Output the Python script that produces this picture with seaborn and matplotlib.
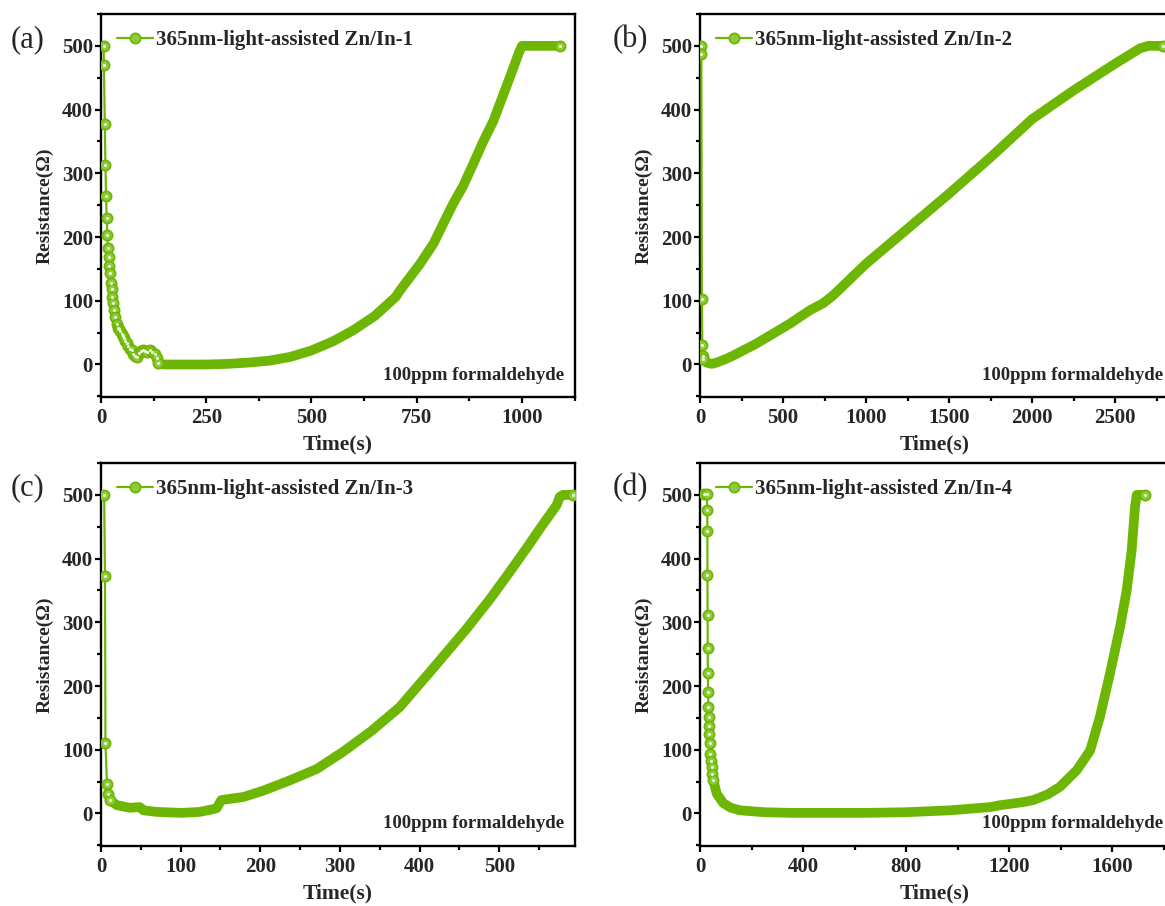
import matplotlib
matplotlib.use("Agg")
import matplotlib.pyplot as plt
import pandas as pd
import seaborn as sns
from matplotlib.ticker import MultipleLocator

# ---------------- data ----------------
legend_labels = ["365nm-light-assisted Zn/In-1", "365nm-light-assisted Zn/In-2",
                 "365nm-light-assisted Zn/In-3", "365nm-light-assisted Zn/In-4"]
panel_tags = ["(a)", "(b)", "(c)", "(d)"]
gas_note = "100ppm formaldehyde"
x_label = "Time(s)"
y_label = "Resistance(Ω)"

# (a) Zn/In-1
a_drop_t = [6, 7, 9, 10.5, 12, 13.5, 15, 16.5, 18, 19.5, 21, 23, 25, 27, 29, 31, 34, 37,
            40, 43, 46, 49, 52, 55, 58, 61, 65, 69, 73, 77, 81, 85, 90, 95, 100, 105,
            110, 116, 122, 128, 132, 135]
a_drop_r = [500, 470, 378, 313, 265, 230, 203, 183, 168, 155, 143, 128, 118, 106, 96, 86,
            75, 64, 58, 55, 52, 48, 45, 41, 37, 33, 29, 25, 22, 17, 13, 12, 18, 21, 22, 21,
            20, 22, 20, 17, 10, 2]
a_band_t = [135, 150, 175, 200, 250, 300, 350, 400, 450, 500, 550, 600, 650, 700, 710,
            758, 790, 813, 837, 861, 885, 908, 932, 948, 972, 992, 1000, 1050, 1090]
a_band_r = [2, 0, 0, 0, 0, 1, 3, 6, 12, 22, 36, 54, 76, 106, 116, 158, 190, 221, 253,
            281, 316, 350, 382, 410, 452, 488, 500, 500, 500]

# (b) Zn/In-2
b_drop_t = [5, 8, 11, 14, 17, 20]
b_drop_r = [500, 487, 103, 30, 14, 8]
b_band_t = [20, 40, 70, 100, 150, 200, 341, 541, 661, 741, 800, 900, 1000, 1250, 1500,
            1750, 2000, 2250, 2500, 2600, 2650, 2700, 2790]
b_band_r = [8, 3, 1, 3, 8, 14, 33, 64, 85, 96, 108, 133, 158, 213, 268, 325, 385, 430,
            472, 488, 496, 500, 500]

# (c) Zn/In-3
c_drop_t = [4, 5, 5.6, 7.5, 9, 11]
c_drop_r = [500, 372, 110, 47, 30, 21]
c_band_t = [11, 20, 36, 49, 53, 70, 101, 124, 145, 151, 162, 179, 204, 237, 271, 304,
            340, 375, 417, 459, 488, 509, 534, 551, 572, 576, 580, 592]
c_band_r = [21, 13, 9, 10, 5, 2.5, 1, 2.5, 8, 21, 23, 26, 36, 52, 70, 97, 130, 167, 228,
            290, 336, 372, 416, 447, 484, 497, 500, 500]

# (d) Zn/In-4
d_drop_t = [14, 26, 28, 28.5, 29, 29.5, 30, 30.5, 31.5, 32.5, 33.5, 34.5, 36, 37.5, 40,
            42, 45, 48, 52]
d_drop_r = [501, 501, 477, 444, 375, 312, 260, 221, 191, 167, 151, 138, 125, 110, 94,
            83, 73, 62, 52]
d_band_t = [52, 65, 91, 120, 155, 250, 350, 500, 650, 800, 971, 1126, 1165, 1256, 1294,
            1350, 1398, 1463, 1515, 1553, 1592, 1631, 1657, 1676, 1689, 1696, 1728]
d_band_r = [52, 31, 16, 9, 5, 2, 1, 1, 1, 2, 5, 10, 13, 18, 21, 30, 42, 68, 99, 152, 220,
            293, 351, 413, 481, 500, 500]

x_limits = [(0, 1126), (0, 2825), (0, 595), (0, 1821)]
x_major = [250, 500, 100, 400]
y_limits = (-51, 550)

# ---------------- style ----------------
sns.set_style("ticks")
plt.rcParams["font.family"] = ["Liberation Serif", "DejaVu Serif"]
plt.rcParams["font.weight"] = "bold"
plt.rcParams["axes.labelweight"] = "bold"

LINE = "#6DB704"
FACE = "#8FCB3C"

W, H = 1165, 906
fig = plt.figure(figsize=(W / 100, H / 100), dpi=100)

boxes = [(101, 14, 474, 383), (700, 14, 469, 383), (101, 463, 474, 383), (700, 463, 469, 383)]
tag_pos = [(28, 40), (630, 40), (28, 488), (630, 488)]
series = [(a_drop_t, a_drop_r, a_band_t, a_band_r),
          (b_drop_t, b_drop_r, b_band_t, b_band_r),
          (c_drop_t, c_drop_r, c_band_t, c_band_r),
          (d_drop_t, d_drop_r, d_band_t, d_band_r)]

for i in range(4):
    l, t, w, h = boxes[i]
    ax = fig.add_axes([l / W, 1 - (t + h) / H, w / W, h / H])
    dt, dr, bt, br = series[i]
    band = pd.DataFrame({"t": bt, "r": br})
    drop = pd.DataFrame({"t": dt, "r": dr})

    sns.lineplot(data=band, x="t", y="r", ax=ax, color=LINE, linewidth=7.0,
                 estimator=None, sort=False, solid_capstyle="round",
                 solid_joinstyle="round", zorder=2)
    sns.lineplot(data=drop, x="t", y="r", ax=ax, color=LINE, linewidth=1.6,
                 estimator=None, sort=False, marker="o", markersize=7.3,
                 markerfacecolor=FACE, markeredgecolor=LINE, markeredgewidth=1.3,
                 label=legend_labels[i], zorder=3)
    sns.scatterplot(data=drop, x="t", y="r", ax=ax, color="#EEF8DD", s=5,
                    linewidth=0, zorder=4, legend=False)
    sns.lineplot(data=band.iloc[[-1]], x="t", y="r", ax=ax, color=LINE, linewidth=0,
                 marker="o", markersize=7.3, markerfacecolor=FACE,
                 markeredgecolor=LINE, markeredgewidth=1.3, zorder=3, legend=False)
    sns.scatterplot(data=band.iloc[[-1]], x="t", y="r", ax=ax, color="#EEF8DD", s=5,
                    linewidth=0, zorder=4, legend=False)

    ax.set_xlim(*x_limits[i])
    ax.set_ylim(*y_limits)
    ax.xaxis.set_major_locator(MultipleLocator(x_major[i]))
    ax.xaxis.set_minor_locator(MultipleLocator(x_major[i] / 2))
    ax.yaxis.set_major_locator(MultipleLocator(100))
    ax.yaxis.set_minor_locator(MultipleLocator(50))
    ax.tick_params(axis="both", which="major", direction="out", length=4.2, width=1.6,
                   labelsize=15, color="black")
    ax.tick_params(axis="both", which="minor", direction="out", length=2.6, width=1.6,
                   color="black")
    ax.tick_params(axis="x", pad=3.5)
    ax.tick_params(axis="y", pad=1.5)
    for sp in ax.spines.values():
        sp.set_visible(True)
        sp.set_linewidth(1.7)
        sp.set_color("black")

    ax.set_xlabel(x_label, fontsize=15.5, labelpad=5)
    ax.set_ylabel(y_label, fontsize=14, labelpad=6)

    ax.legend(loc="center left", bbox_to_anchor=(16 / w, 1 - 26 / h), frameon=False,
              borderpad=0, borderaxespad=0, handlelength=1.75, handletextpad=0.1,
              prop={"size": 15, "weight": "bold"})

    ax.text(1 - 11 / w if i % 2 == 0 else 1 - 6 / w, 22 / h, gas_note,
            transform=ax.transAxes, ha="right", va="center", fontsize=13.5,
            fontweight="bold")

    fig.text(tag_pos[i][0] / W, 1 - tag_pos[i][1] / H, panel_tags[i], ha="center",
             va="center", fontsize=22, fontweight="normal")

fig.savefig("out.png", dpi=100)
